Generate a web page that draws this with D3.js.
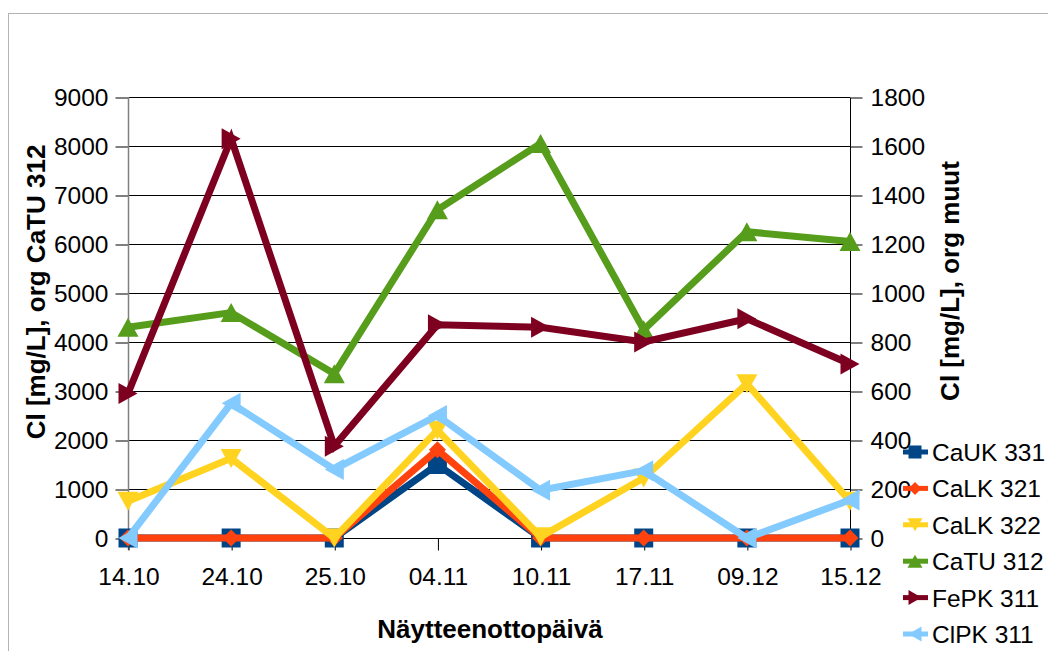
<!DOCTYPE html>
<html>
<head>
<meta charset="utf-8">
<script src="https://cdn.jsdelivr.net/npm/d3@7"></script>
<style>
  html, body { margin: 0; padding: 0; background: #fff; }
  svg { display: block; font-family: "Liberation Sans", Arial, sans-serif; }
</style>
</head>
<body>
<svg id="chart" width="1048" height="651"></svg>
<script>
// Sampling dates
const dates = ["14.10", "24.10", "25.10", "04.11", "10.11", "17.11", "09.12", "15.12"];

// Chloride concentrations, mg/L
const caUK331  = [0, 0, 0, 300, 0, 0, 0, 0];
const caLK321  = [0, 0, 0, 360, 0, 0, 0, 0];
const caLK322  = [150, 325, 0, 440, 5, 245, 630, 150];
const caTU312  = [4300, 4600, 3350, 6700, 8050, 4250, 6250, 6050];   // primary axis
const fePK311  = [590, 1630, 375, 870, 860, 800, 895, 710];
const clPK311  = [0, 550, 280, 500, 195, 275, 0, 155];

const leftTicks  = [0, 1000, 2000, 3000, 4000, 5000, 6000, 7000, 8000, 9000];
const rightTicks = [0, 200, 400, 600, 800, 1000, 1200, 1400, 1600, 1800];

const series = [
  { name: "CaUK 331", values: caUK331, axis: "right", color: "#004586", marker: "square" },
  { name: "CaLK 321", values: caLK321, axis: "right", color: "#ff420e", marker: "diamond" },
  { name: "CaLK 322", values: caLK322, axis: "right", color: "#ffd320", marker: "down" },
  { name: "CaTU 312", values: caTU312, axis: "left",  color: "#579d1c", marker: "up" },
  { name: "FePK 311", values: fePK311, axis: "right", color: "#7e0021", marker: "right" },
  { name: "ClPK 311", values: clPK311, axis: "right", color: "#83caff", marker: "left" }
];

const svg = d3.select("#chart");
const plot = { left: 128, right: 850, top: 97, bottom: 538 };
const tickFont = 24.5;
const titleFont = 26;

// Outer chart frame
svg.append("rect")
  .attr("x", 8.5).attr("y", 13.5)
  .attr("width", 1100).attr("height", 700)
  .attr("fill", "#fff").attr("stroke", "#b3b3b3").attr("stroke-width", 1);

const x = d3.scalePoint().domain(dates).range([plot.left, plot.right]);
const yL = d3.scaleLinear().domain([0, 9000]).range([plot.bottom, plot.top]);
const yR = d3.scaleLinear().domain([0, 1800]).range([plot.bottom, plot.top]);

// Horizontal grid lines
svg.append("g").selectAll("line").data(leftTicks).join("line")
  .attr("x1", plot.left).attr("x2", plot.right)
  .attr("y1", d => Math.round(yL(d)) + 0.5).attr("y2", d => Math.round(yL(d)) + 0.5)
  .attr("stroke", "#000").attr("stroke-width", 1);

function styleText(g) {
  g.selectAll("text").attr("font-size", tickFont).attr("fill", "#000")
    .attr("font-family", "Liberation Sans, Arial, sans-serif");
}

// Left axis
const gL = svg.append("g").attr("transform", `translate(${plot.left + 0.5},0.5)`)
  .call(d3.axisLeft(yL).tickValues(leftTicks).tickSize(13).tickPadding(7).tickFormat(d3.format("d")));
gL.select(".domain").remove();
gL.selectAll(".tick line").attr("stroke", "#000");
styleText(gL);
svg.append("line")
  .attr("x1", plot.left + 0.5).attr("x2", plot.left + 0.5)
  .attr("y1", plot.top).attr("y2", plot.bottom + 12)
  .attr("stroke", "#808080").attr("stroke-width", 1.5);

// Right axis
const gR = svg.append("g").attr("transform", `translate(${plot.right + 0.5},0.5)`)
  .call(d3.axisRight(yR).tickValues(rightTicks).tickSize(12).tickPadding(8).tickFormat(d3.format("d")));
gR.select(".domain").attr("d", `M0,${plot.top}V${plot.bottom}`).attr("stroke", "#000");
gR.selectAll(".tick line").attr("stroke", "#000");
styleText(gR);

// Category axis
const gX = svg.append("g").attr("transform", `translate(0.5,${plot.bottom + 0.5})`)
  .call(d3.axisBottom(x).tickSize(12).tickPadding(17));
gX.select(".domain").attr("d", `M${plot.left},0H${plot.right}`).attr("stroke", "#000");
gX.selectAll(".tick line").attr("stroke", "#000");
styleText(gX);

// Axis titles
svg.append("text")
  .attr("transform", `translate(45,292) rotate(-90)`)
  .attr("text-anchor", "middle").attr("font-size", titleFont).attr("font-weight", "bold")
  .text("Cl [mg/L], org CaTU 312");
svg.append("text")
  .attr("transform", `translate(959,281) rotate(-90)`)
  .attr("text-anchor", "middle").attr("font-size", titleFont).attr("font-weight", "bold")
  .text("Cl [mg/L], org muut");
svg.append("text")
  .attr("x", 490).attr("y", 638)
  .attr("text-anchor", "middle").attr("font-size", titleFont).attr("font-weight", "bold")
  .text("Näytteenottopäivä");

// Marker shapes, centred on the origin
function markerPath(kind, s) {
  const h = s / 2;
  switch (kind) {
    case "square":  return `M${-h},${-h}H${h}V${h}H${-h}Z`;
    case "diamond": return `M0,${-h}L${h},0L0,${h}L${-h},0Z`;
    case "down":    return `M${-h - 1},${-h}L${h + 1},${-h}L0,${h}Z`;
    case "up":      return `M${-h - 1},${h}L${h + 1},${h}L0,${-h}Z`;
    case "right":   return `M${-h},${-h - 1}L${-h},${h + 1}L${h},0Z`;
    case "left":    return `M${h},${-h - 1}L${h},${h + 1}L${-h},0Z`;
  }
}
const markerSize = { square: 19, diamond: 17, down: 19, up: 19, right: 19, left: 19 };

const line = d3.line();

series.forEach(s => {
  const y = s.axis === "left" ? yL : yR;
  const pts = s.values.map((v, i) => [x(dates[i]), y(v)]);
  const g = svg.append("g");
  g.append("path")
    .attr("d", line(pts))
    .attr("fill", "none").attr("stroke", s.color)
    .attr("stroke-width", 7).attr("stroke-linejoin", "miter");
  g.selectAll("path.m").data(pts).join("path")
    .attr("class", "m")
    .attr("transform", d => `translate(${d[0]},${d[1]})`)
    .attr("d", markerPath(s.marker, markerSize[s.marker]))
    .attr("fill", s.color);
});

// Legend
const legend = svg.append("g");
series.forEach((s, i) => {
  const cy = 452 + i * 36.4;
  const g = legend.append("g").attr("transform", `translate(0,${cy})`);
  g.append("line").attr("x1", 903).attr("x2", 928).attr("y1", 0).attr("y2", 0)
    .attr("stroke", s.color).attr("stroke-width", 5);
  g.append("path").attr("transform", "translate(915,0)")
    .attr("d", markerPath(s.marker, 13)).attr("fill", s.color);
  g.append("text").attr("x", 932).attr("y", 9)
    .attr("font-size", tickFont).text(s.name);
});
</script>
</body>
</html>
